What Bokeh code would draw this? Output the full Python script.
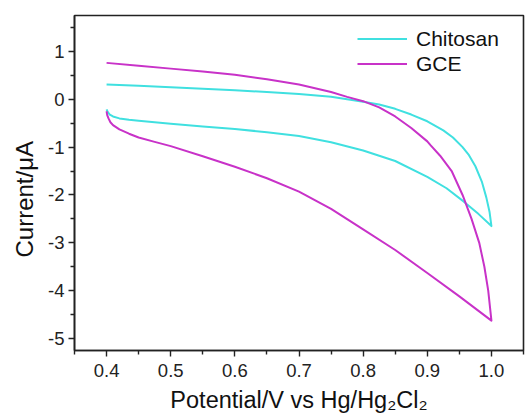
from bokeh.plotting import figure
from bokeh.models import Range1d, FixedTicker, Legend, LegendItem, Title
from bokeh.embed import file_html
from bokeh.resources import INLINE

# Chitosan (cyan) branches
chi_lower_x = [0.400, 0.402, 0.405, 0.410, 0.420, 0.435, 0.450, 0.500, 0.550, 0.600, 0.650,
               0.700, 0.750, 0.800, 0.850, 0.900, 0.930, 0.957, 0.980, 1.000]
chi_lower_y = [-0.21, -0.27, -0.32, -0.36, -0.40, -0.43, -0.45, -0.51, -0.57, -0.62, -0.69,
               -0.77, -0.90, -1.07, -1.29, -1.62, -1.86, -2.14, -2.40, -2.65]
chi_upper_x = [1.000, 0.997, 0.992, 0.985, 0.975, 0.965, 0.955, 0.940, 0.925, 0.900, 0.875,
               0.850, 0.825, 0.800, 0.750, 0.700, 0.650, 0.600, 0.550, 0.500, 0.450, 0.400]
chi_upper_y = [-2.65, -2.35, -2.05, -1.72, -1.40, -1.17, -1.00, -0.80, -0.65, -0.46, -0.32,
               -0.20, -0.11, -0.05, 0.05, 0.11, 0.15, 0.19, 0.22, 0.25, 0.28, 0.31]

# GCE (magenta) branches
gce_lower_x = [0.400, 0.401, 0.403, 0.406, 0.410, 0.420, 0.435, 0.450, 0.475, 0.500, 0.550,
               0.600, 0.650, 0.700, 0.750, 0.800, 0.850, 0.900, 0.950, 1.000]
gce_lower_y = [-0.25, -0.33, -0.40, -0.48, -0.54, -0.63, -0.72, -0.80, -0.89, -0.98, -1.19,
               -1.41, -1.65, -1.93, -2.29, -2.72, -3.15, -3.63, -4.12, -4.625]
gce_upper_x = [1.000, 0.995, 0.989, 0.981, 0.969, 0.955, 0.938, 0.920, 0.905, 0.900, 0.875,
               0.850, 0.825, 0.800, 0.775, 0.750, 0.700, 0.650, 0.600, 0.550, 0.500, 0.450, 0.400]
gce_upper_y = [-4.625, -4.00, -3.50, -3.00, -2.50, -2.00, -1.50, -1.18, -0.96, -0.88, -0.60,
               -0.36, -0.17, -0.04, 0.05, 0.15, 0.31, 0.42, 0.51, 0.58, 0.64, 0.70, 0.76]

series_names = ["Chitosan", "GCE"]
series_colors = ["#40E0E0", "#C832C8"]

x_ticks = [0.4, 0.5, 0.6, 0.7, 0.8, 0.9, 1.0]
x_tick_labels = ["0.4", "0.5", "0.6", "0.7", "0.8", "0.9", "1.0"]
y_ticks = [-5, -4, -3, -2, -1, 0, 1]
y_tick_labels = ["-5", "-4", "-3", "-2", "-1", "0", "1"]
x_title = "Potential/V vs Hg/Hg\u2082Cl\u2082"
y_title = "Current/\u03bcA"

FONT = "Liberation Sans"

p = figure(width=525, height=419, output_backend="svg", toolbar_location=None,
           x_range=Range1d(0.35, 1.05), y_range=Range1d(-5.25, 1.75),
           min_border_left=74, min_border_right=2, min_border_top=15, min_border_bottom=69)
p.background_fill_color = "white"
p.border_fill_color = "white"
p.grid.visible = False
p.outline_line_color = "#222222"
p.outline_line_width = 1.6

r1 = p.line(chi_lower_x + chi_upper_x, chi_lower_y + chi_upper_y,
            line_color=series_colors[0], line_width=2, line_join="round")
r2 = p.line(gce_lower_x + gce_upper_x, gce_lower_y + gce_upper_y,
            line_color=series_colors[1], line_width=2, line_join="round")

for ax in (p.xaxis[0], p.yaxis[0]):
    ax.axis_line_width = 1.6
    ax.axis_line_color = "#222222"
    ax.major_tick_line_color = "#222222"
    ax.minor_tick_line_color = "#222222"
    ax.major_tick_line_width = 1.4
    ax.minor_tick_line_width = 1.4
    ax.major_tick_out = 6
    ax.major_tick_in = 0
    ax.minor_tick_out = 4
    ax.minor_tick_in = 0
    ax.major_label_text_font = FONT
    ax.major_label_text_font_size = "18.5px"
    ax.major_label_text_color = "#222222"

p.xaxis[0].ticker = FixedTicker(ticks=x_ticks, minor_ticks=[0.35, 0.45, 0.55, 0.65, 0.75, 0.85, 0.95, 1.05])
p.xaxis[0].major_label_overrides = dict(zip(x_ticks, x_tick_labels))
p.xaxis[0].major_label_standoff = 7
p.yaxis[0].ticker = FixedTicker(ticks=y_ticks, minor_ticks=[-5.5, -4.5, -3.5, -2.5, -1.5, -0.5, 0.5, 1.5])
p.yaxis[0].major_label_overrides = dict(zip(y_ticks, y_tick_labels))
p.yaxis[0].major_label_standoff = 4

p.add_layout(Title(text=x_title, align="center", text_font=FONT, text_font_size="23.5px",
                   text_font_style="normal", text_color="#111111", standoff=10), "below")
p.add_layout(Title(text=y_title, align="left", text_font=FONT, text_font_size="24px",
                   text_font_style="normal", text_color="#111111", standoff=16,
                   offset=93), "left")

legend = Legend(items=[LegendItem(label=series_names[0], renderers=[r1]),
                       LegendItem(label=series_names[1], renderers=[r2])],
                location=(283, 274), orientation="vertical")
legend.border_line_color = None
legend.background_fill_alpha = 0
legend.padding = 0
legend.margin = 0
legend.spacing = 0
legend.glyph_width = 50
legend.glyph_height = 25
legend.label_height = 25
legend.label_standoff = 9
legend.label_text_font = FONT
legend.label_text_font_size = "21px"
legend.label_text_color = "#111111"
p.add_layout(legend, "center")

open("out.html", "w").write(file_html(p, INLINE))
